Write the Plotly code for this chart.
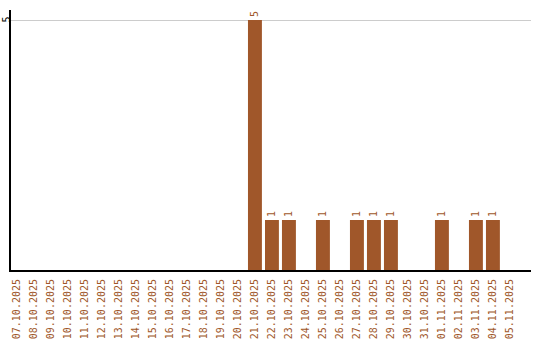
import plotly.graph_objects as go

dates = ["07.10.2025", "08.10.2025", "09.10.2025", "10.10.2025", "11.10.2025",
         "12.10.2025", "13.10.2025", "14.10.2025", "15.10.2025", "16.10.2025",
         "17.10.2025", "18.10.2025", "19.10.2025", "20.10.2025", "21.10.2025",
         "22.10.2025", "23.10.2025", "24.10.2025", "25.10.2025", "26.10.2025",
         "27.10.2025", "28.10.2025", "29.10.2025", "30.10.2025", "31.10.2025",
         "01.11.2025", "02.11.2025", "03.11.2025", "04.11.2025", "05.11.2025"]
counts = [0, 0, 0, 0, 0, 0, 0, 0, 0, 0, 0, 0, 0, 0, 5,
          1, 1, 0, 1, 0, 1, 1, 1, 0, 0, 1, 0, 1, 1, 0]
labels = [str(c) if c else "" for c in counts]
y_ticks = [5]

brown = "#a0572a"

fig = go.Figure(go.Bar(
    x=dates, y=counts, text=labels, textposition="outside", textangle=-90,
    textfont=dict(family="DejaVu Sans Mono", size=10, color=brown),
    marker=dict(color=brown, line=dict(width=0)), cliponaxis=False,
))

for t in y_ticks:
    fig.add_annotation(x=0, xref="paper", xanchor="center", xshift=-5.5,
                       y=t, yref="y", yanchor="middle", text=str(t),
                       textangle=-90, showarrow=False, borderpad=0,
                       font=dict(family="DejaVu Sans Mono", size=10, color="black"))

fig.update_layout(
    width=540, height=340, margin=dict(l=11, r=9, t=10, b=70),
    paper_bgcolor="white", plot_bgcolor="white", bargap=0.18,
    showlegend=False, uniformtext=dict(mode=False),
    xaxis=dict(type="category", range=[-0.35, 30.24], tickangle=-90,
               automargin=False,
               tickfont=dict(family="DejaVu Sans Mono", size=10, color=brown),
               showline=True, linecolor="black", linewidth=2, showgrid=False,
               ticks="outside", ticklen=3, tickcolor="rgba(0,0,0,0)"),
    yaxis=dict(range=[0, 5.2], tickvals=y_ticks, showticklabels=False,
               automargin=False,
               showline=True, linecolor="black", linewidth=2,
               showgrid=True, gridcolor="#cccccc", gridwidth=1, zeroline=False,
               ticks="", ticklen=0),
)

fig.write_html("out.html")
